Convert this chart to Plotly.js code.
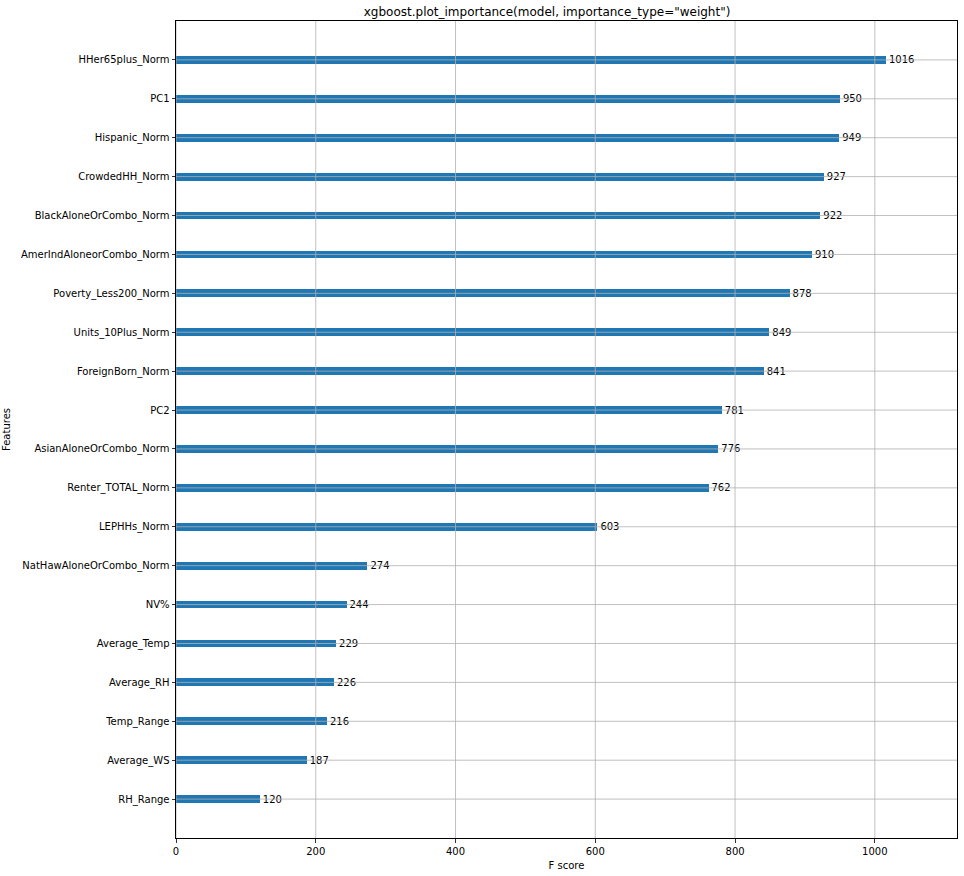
<!DOCTYPE html>
<html>
<head>
<meta charset="utf-8">
<script src="https://cdn.plot.ly/plotly-3.0.1.min.js"></script>
<style>html,body{margin:0;padding:0;background:#fff;}#chart{width:964px;height:876px;}</style>
</head>
<body>
<div id="chart"></div>
<script>
const features = ["RH_Range","Average_WS","Temp_Range","Average_RH","Average_Temp","NV%","NatHawAloneOrCombo_Norm","LEPHHs_Norm","Renter_TOTAL_Norm","AsianAloneOrCombo_Norm","PC2","ForeignBorn_Norm","Units_10Plus_Norm","Poverty_Less200_Norm","AmerIndAloneorCombo_Norm","BlackAloneOrCombo_Norm","CrowdedHH_Norm","Hispanic_Norm","PC1","HHer65plus_Norm"];
const fscore = [120,187,216,226,229,244,274,603,762,776,781,841,849,878,910,922,927,949,950,1016];
const xTicks = [0,200,400,600,800,1000];
const font = "DejaVu Sans, sans-serif";
const idx = features.map((_, i) => i);
const xMax = Math.max(...fscore) * 1.1;
const yMin = -1, yMax = features.length;

const bars = {
  type: "bar",
  orientation: "h",
  x: fscore,
  y: idx,
  width: 0.2,
  marker: {color: "#1f77b4", line: {width: 0}},
  text: fscore.map(String),
  textposition: "outside",
  textfont: {family: font, size: 10, color: "#000"},
  constraintext: "none",
  cliponaxis: false,
  hoverinfo: "x+y"
};

// grid drawn above the bars, as in the matplotlib original
const gx = [], gy = [];
idx.forEach(i => { gx.push(0, xMax, null); gy.push(i, i, null); });
xTicks.forEach(t => { gx.push(t, t, null); gy.push(yMin, yMax, null); });
const grid = {
  type: "scatter", mode: "lines",
  x: gx, y: gy,
  line: {color: "#b0b0b0", width: 0.8},
  hoverinfo: "skip", connectgaps: false, cliponaxis: true
};

const layout = {
  width: 964, height: 876,
  margin: {l: 176, r: 7, t: 21, b: 38},
  paper_bgcolor: "#fff", plot_bgcolor: "#fff",
  showlegend: false,
  font: {family: font, size: 10, color: "#000"},
  title: {text: 'xgboost.plot_importance(model, importance_type="weight")', font: {family: font, size: 12, color: "#000"}, x: 0.5675, xanchor: "center", y: 0.9863, yanchor: "middle"},
  xaxis: {
    range: [0, xMax],
    tickvals: xTicks, ticktext: xTicks.map(String),
    showgrid: false,
    zeroline: false,
    showline: true, linecolor: "#000", linewidth: 1, mirror: true,
    ticks: "outside", ticklen: 3.5, tickcolor: "#000", tickwidth: 0.8,
    tickfont: {family: font, size: 10, color: "#000"},
    title: {text: "F score", font: {family: font, size: 10, color: "#000"}, standoff: 6},
    layer: "above traces"
  },
  yaxis: {
    range: [yMin, yMax],
    tickvals: idx, ticktext: features,
    showgrid: false,
    zeroline: false,
    showline: true, linecolor: "#000", linewidth: 1, mirror: true,
    ticks: "outside", ticklen: 3.5, tickcolor: "#000", tickwidth: 0.8,
    tickfont: {family: font, size: 10, color: "#000"},
    title: {text: "Features", font: {family: font, size: 10, color: "#000"}, standoff: 8},
    layer: "above traces"
  },
  bargap: 0
};

Plotly.newPlot("chart", [bars, grid], layout, {displayModeBar: false, staticPlot: true});
</script>
</body>
</html>
